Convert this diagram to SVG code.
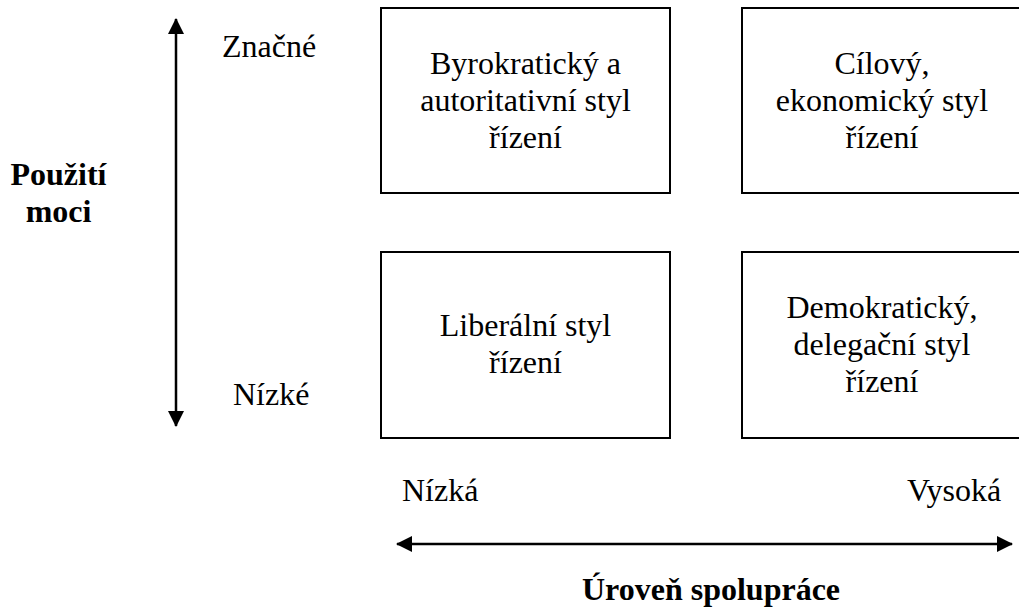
<svg xmlns="http://www.w3.org/2000/svg" width="1019" height="609" viewBox="0 0 1019 609">
<style>
.box{fill:#fff;stroke:#000;stroke-width:2}
.t{font-family:"Liberation Serif","Times New Roman",serif;font-size:32px;fill:#000;text-anchor:middle}
.l{font-family:"Liberation Serif","Times New Roman",serif;font-size:32px;fill:#000}
.b{font-family:"Liberation Serif","Times New Roman",serif;font-size:32px;font-weight:bold;fill:#000;text-anchor:middle}
.ax{stroke:#000;stroke-width:2.5;fill:none}
</style>
<defs>
<marker id="ah" viewBox="0 0 16 16" refX="15" refY="8" markerWidth="16" markerHeight="16" markerUnits="userSpaceOnUse" orient="auto-start-reverse">
<path d="M0,0 L16,8 L0,16 Z" fill="#000"/>
</marker>
</defs>
<rect width="1019" height="609" fill="#fff"/>
<g id="connectors">
<line class="ax" x1="176" y1="426" x2="176" y2="19" marker-end="url(#ah)" marker-start="url(#ah)"/>
<line class="ax" x1="397" y1="544" x2="1012" y2="544" marker-end="url(#ah)" marker-start="url(#ah)"/>
</g>
<g id="box-byrokraticky">
<rect class="box" x="381" y="8" width="289" height="185"/>
<text class="t" x="525.5" y="74">Byrokratický a</text>
<text class="t" x="525.5" y="111">autoritativní styl</text>
<text class="t" x="525.5" y="148">řízení</text>
</g>
<g id="box-cilovy">
<rect class="box" x="742" y="8" width="300" height="185"/>
<text class="t" x="882" y="74">Cílový,</text>
<text class="t" x="882" y="111">ekonomický styl</text>
<text class="t" x="882" y="148">řízení</text>
</g>
<g id="box-liberalni">
<rect class="box" x="381" y="252" width="289" height="186"/>
<text class="t" x="525.5" y="336">Liberální styl</text>
<text class="t" x="525.5" y="373">řízení</text>
</g>
<g id="box-demokraticky">
<rect class="box" x="742" y="252" width="300" height="186"/>
<text class="t" x="882" y="318">Demokratický,</text>
<text class="t" x="882" y="355">delegační styl</text>
<text class="t" x="882" y="392">řízení</text>
</g>
<g id="labels">
<text class="l" x="222" y="57">Značné</text>
<text class="l" x="233" y="405">Nízké</text>
<text class="l" x="402" y="501">Nízká</text>
<text class="l" x="907" y="501">Vysoká</text>
<text class="b" x="58.5" y="185">Použití</text>
<text class="b" x="58.5" y="222">moci</text>
<text class="b" x="711" y="600">Úroveň spolupráce</text>
</g>
</svg>
